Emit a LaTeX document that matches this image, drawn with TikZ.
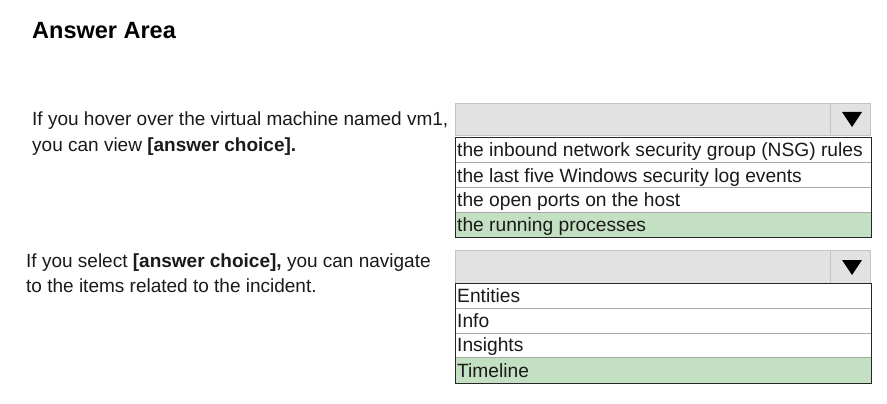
\documentclass[tikz,border=0pt]{standalone}
\usepackage{fontspec}
\setmainfont{Liberation Sans}
\definecolor{boxgray}{HTML}{E2E2E2}
\definecolor{boxedge}{HTML}{C4C4C4}
\definecolor{selgreen}{HTML}{C4E0C2}
\definecolor{sepgray}{HTML}{A8A8A8}
\definecolor{txt}{HTML}{1A1A1A}
\begin{document}
\begin{tikzpicture}[x=1pt,y=-1pt,
  qtext/.style={anchor=base west,inner sep=0pt,text=txt,font=\fontsize{19}{23}\selectfont},
  itemtext/.style={anchor=base west,inner sep=0pt,text=txt,font=\fontsize{19.2}{23}\selectfont},
  selbox/.style={draw=boxedge,fill=boxgray,line width=1pt},
  listbox/.style={draw=black!85,line width=1.2pt},
  sepline/.style={draw=sepgray,line width=0.8pt},
  tri/.style={fill=black,draw=none}]
\useasboundingbox[fill=white] (0,0) rectangle (887,404);
\node[anchor=base west,inner sep=0pt,font=\bfseries\fontsize{23.5}{27}\selectfont] (title) at (32,39) {Answer Area};
% question 1
\node[qtext] (q1a) at (32,125) {If you hover over the virtual machine named vm1,};
\node[qtext] (q1b) at (32,151) {you can view \textbf{[answer choice].}};
% dropdown 1
\node[selbox,anchor=north west,minimum width=415pt,minimum height=32pt,inner sep=0pt] (dd1) at (455,103) {};
\draw[boxedge,line width=1pt] (830,103) -- (830,135);
\fill[tri] (842,112) -- (862,112) -- (852,127) -- cycle;
\fill[selgreen] (455,212) rectangle (871,237);
\draw[sepline] (455,162) -- (871,162);
\draw[sepline] (455,187) -- (871,187);
\draw[sepline] (455,212) -- (871,212);
\node[listbox,anchor=north west,minimum width=416pt,minimum height=100pt,inner sep=0pt] (list1) at (455,137) {};
\node[itemtext] (a1) at (457,157) {the inbound network security group (NSG) rules};
\node[itemtext] (a2) at (457,182) {the last five Windows security log events};
\node[itemtext] (a3) at (457,206) {the open ports on the host};
\node[itemtext] (a4) at (457,231) {the running processes};
% question 2
\node[qtext] (q2a) at (26,267) {If you select \textbf{[answer choice],} you can navigate};
\node[qtext] (q2b) at (26,292) {to the items related to the incident.};
% dropdown 2
\node[selbox,anchor=north west,minimum width=415pt,minimum height=33pt,inner sep=0pt] (dd2) at (455,250) {};
\draw[boxedge,line width=1pt] (830,250) -- (830,283);
\fill[tri] (842,260) -- (862,260) -- (852,275) -- cycle;
\fill[selgreen] (455,357) rectangle (871,383);
\draw[sepline] (455,308) -- (871,308);
\draw[sepline] (455,333) -- (871,333);
\draw[sepline] (455,357) -- (871,357);
\node[listbox,anchor=north west,minimum width=416pt,minimum height=100pt,inner sep=0pt] (list2) at (455,283) {};
\node[itemtext] (b1) at (457,302) {Entities};
\node[itemtext] (b2) at (457,327) {Info};
\node[itemtext] (b3) at (457,351) {Insights};
\node[itemtext] (b4) at (457,377) {Timeline};
\end{tikzpicture}
\end{document}
